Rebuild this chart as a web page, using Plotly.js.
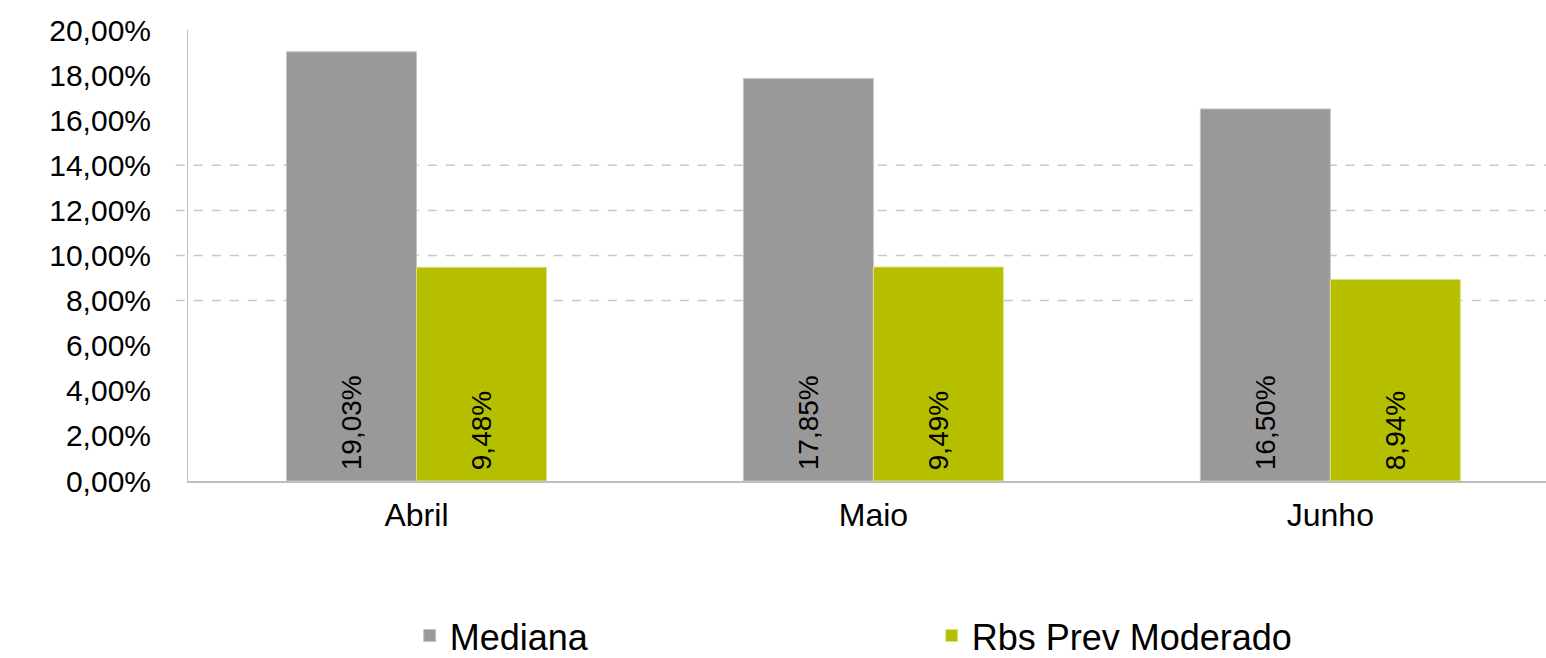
<!DOCTYPE html>
<html>
<head>
<meta charset="utf-8">
<script src="https://cdn.plot.ly/plotly-3.0.1.min.js"></script>
<style>html,body{margin:0;padding:0;background:#fff;}#chart{width:1546px;height:658px;}</style>
</head>
<body>
<div id="chart"></div>
<script>
const categories = ["Abril", "Maio", "Junho"];
const mediana = [0.1903, 0.1785, 0.1650];
const rbsPrevModerado = [0.0948, 0.0949, 0.0894];
const gridVals = [0.08, 0.10, 0.12, 0.14];

const FONT = "Liberation Sans, Arial, sans-serif";

const traces = [
  {
    type: "bar", name: "Mediana", x: categories, y: mediana,
    marker: {color: "#999999", line: {color: "#c4c4c4", width: 1}},
    texttemplate: "\u00a0%{y:.2%}", textposition: "inside", insidetextanchor: "start",
    textangle: -90, textfont: {family: FONT, size: 28, color: "#000"}, constraintext: "none",
    hoverinfo: "skip"
  },
  {
    type: "bar", name: "Rbs Prev Moderado", x: categories, y: rbsPrevModerado,
    marker: {color: "#b5bf00", line: {color: "#dde088", width: 1}},
    texttemplate: "\u00a0%{y:.2%}", textposition: "inside", insidetextanchor: "start",
    textangle: -90, textfont: {family: FONT, size: 28, color: "#000"}, constraintext: "none",
    hoverinfo: "skip"
  }
];

const shapes = gridVals.map(v => ({
  type: "line", xref: "paper", yref: "y", x0: -0.009, x1: 1, y0: v, y1: v,
  layer: "below", line: {color: "#c8c8c8", width: 1.5, dash: "dash"}
}));

const layout = {
  width: 1546, height: 658,
  margin: {l: 188, r: 0, t: 30, b: 177, pad: 0},
  paper_bgcolor: "#fff", plot_bgcolor: "rgba(0,0,0,0)",
  separators: ",.",
  font: {family: FONT, color: "#000"},
  barmode: "group", bargap: 0.431, bargroupgap: 0,
  showlegend: true,
  legend: {
    orientation: "h", xref: "container", yref: "container",
    x: 0.265, y: 0.034, xanchor: "left", yanchor: "middle",
    font: {family: FONT, size: 36, color: "#000"},
    entrywidthmode: "pixels", entrywidth: 477,
    bgcolor: "rgba(0,0,0,0)"
  },
  xaxis: {
    type: "category", range: [-0.5, 2.472], showgrid: false, zeroline: false,
    showline: true, linecolor: "#bfbfbf", linewidth: 2, ticks: "",
    tickfont: {family: FONT, size: 32, color: "#000"}, ticklabelstandoff: 5
  },
  yaxis: {
    range: [0, 0.2], dtick: 0.02, tick0: 0, tickformat: ".2%",
    showgrid: false, zeroline: false, showline: true, linecolor: "#bfbfbf", linewidth: 1,
    ticks: "", tickfont: {family: FONT, size: 30, color: "#000"}, ticklabelstandoff: 30
  },
  shapes: shapes
};

Plotly.newPlot("chart", traces, layout, {displayModeBar: false, staticPlot: true});
</script>
</body>
</html>
